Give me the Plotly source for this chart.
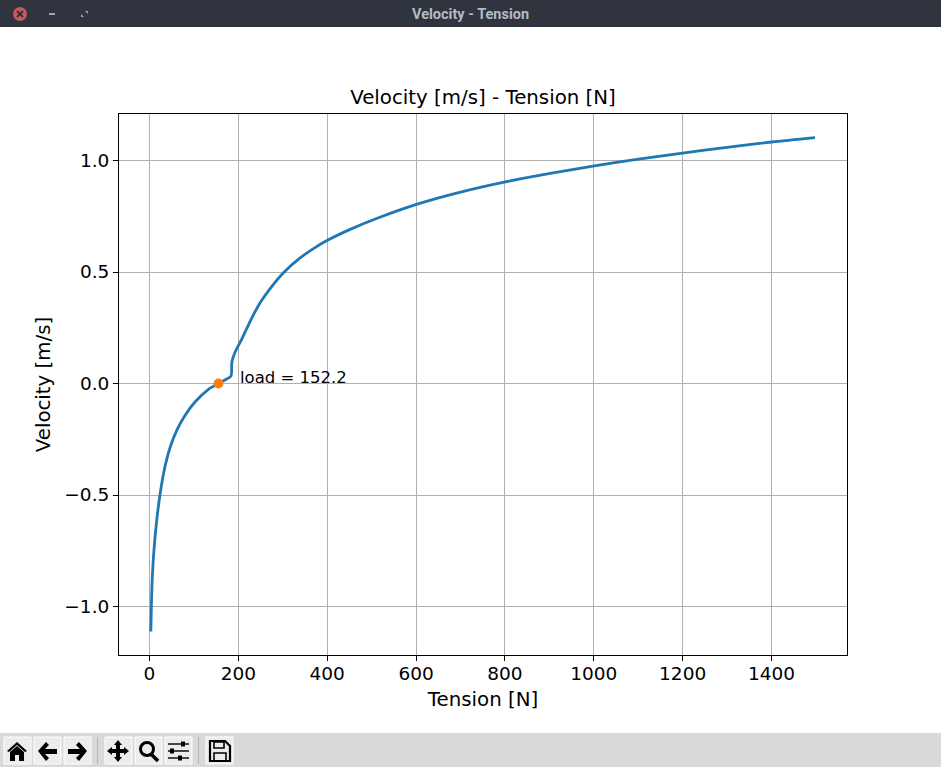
import plotly.graph_objects as go

tension = [3.1, 4.2, 6.8, 11.3, 16.6, 23.4, 33, 46.6, 61.6, 80.3, 102.9, 132.8, 155.3, 170, 183.2, 185.5, 193, 208,
           226.6, 249, 275.5, 301.6, 339, 369, 400.6, 451.7, 515.5, 600.9, 700, 801, 902, 1001.6, 1100.6, 1199.6, 1299.6, 1400, 1498]
velocity = [-1.112, -1.0, -0.851, -0.717, -0.608, -0.502, -0.39, -0.286, -0.209, -0.142, -0.082, -0.026, 0.0, 0.016, 0.033, 0.097, 0.142, 0.2,
            0.279, 0.362, 0.436, 0.497, 0.563, 0.605, 0.642, 0.691, 0.743, 0.803, 0.858, 0.904, 0.942, 0.976, 1.006, 1.033, 1.059, 1.083, 1.103]
load_x = [155.3]
load_y = [0.0]
load_text = "load = 152.2"
x_ticks = [0, 200, 400, 600, 800, 1000, 1200, 1400]
y_ticks = [-1.0, -0.5, 0.0, 0.5, 1.0]

W, H = 941, 767
L, R, T, B = 119, 847, 114, 655
FONT = "DejaVu Sans"

def px(x):
    return (x - L) / (R - L)

def py(y):
    return (B - y) / (B - T)

def rect(x0, y0, x1, y1, fill, line=None, lw=1):
    return dict(type="rect", xref="paper", yref="paper", x0=px(x0), x1=px(x1), y0=py(y0), y1=py(y1),
                fillcolor=fill, line=dict(color=line or fill, width=lw if line else 0), layer="above")

def poly(points, fill="#000000", line=None, lw=0, close=True):
    d = "M" + " L".join(f"{px(a):.5f},{py(b):.5f}" for a, b in points) + (" Z" if close else "")
    return dict(type="path", xref="paper", yref="paper", path=d,
                fillcolor=fill, line=dict(color=line or fill, width=lw), layer="above")

def circle(cx, cy, r, fill, line=None, lw=0):
    return dict(type="circle", xref="paper", yref="paper", x0=px(cx - r), x1=px(cx + r), y0=py(cy + r), y1=py(cy - r),
                fillcolor=fill, line=dict(color=line or fill, width=lw), layer="above")

shapes = [
    rect(0, 0, W, 27, "#2f343f"),
    circle(20, 14, 7, "#cc575d"),
    poly([(17, 11), (23, 17)], "#2f343f", "#2f343f", 2, False),
    poly([(23, 11), (17, 17)], "#2f343f", "#2f343f", 2, False),
    rect(49, 13, 55, 15, "#9ea3ad"),
    poly([(85, 11), (88, 11), (88, 14)], "#9ea3ad"),
    poly([(81, 14), (84, 17), (81, 17)], "#9ea3ad"),
    rect(0, 733, W, H, "#d9d9d9"),
]
for a, b in [(4, 31), (34, 61), (64, 91), (105, 132), (135, 162), (165, 192), (206, 233)]:
    shapes.append(rect(a, 737, b, 764, "#ececec", "#ffffff", 1))
shapes += [rect(97, 737, 98, 764, "#b4b4b4"), rect(198, 737, 199, 764, "#b4b4b4")]

# home
shapes += [poly([(7, 751), (17, 742), (27, 751), (25, 752), (17, 745), (9, 752)]),
           poly([(10, 752), (17, 746), (24, 752), (24, 761), (19, 761), (19, 755), (15, 755), (15, 761), (10, 761)])]
# back / forward
shapes += [poly([(38, 751), (46, 742), (49, 745), (45, 749), (57, 749), (57, 754), (45, 754), (49, 758), (46, 761)])]
shapes += [poly([(87, 751), (79, 742), (76, 745), (80, 749), (68, 749), (68, 754), (80, 754), (76, 758), (79, 761)])]
# move
shapes += [poly([(118, 740), (122, 745), (120, 745), (120, 749), (124, 749), (124, 747), (129, 751), (124, 755), (124, 753),
                 (120, 753), (120, 757), (122, 757), (118, 762), (114, 757), (116, 757), (116, 753), (112, 753), (112, 755),
                 (107, 751), (112, 747), (112, 749), (116, 749), (116, 745), (114, 745)])]
# zoom
shapes += [circle(147, 749, 6.5, "rgba(0,0,0,0)", "#000000", 3),
           poly([(151, 754), (158, 761)], "#000000", "#000000", 3.5, False)]
# subplots
for yy, kx in [(744, 183), (751, 172), (758, 180)]:
    shapes += [rect(168, yy - 0.7, 189, yy + 0.7, "#000000"), rect(kx - 2, yy - 2.5, kx + 2, yy + 2.5, "#000000")]
# save
shapes += [poly([(210, 741), (225, 741), (230, 746), (230, 761), (210, 761)], "rgba(0,0,0,0)", "#000000", 2.2),
           rect(214, 742, 224, 748, "rgba(0,0,0,0)", "#000000", 1.6),
           rect(214, 753, 226, 761, "rgba(0,0,0,0)", "#000000", 1.6)]

fig = go.Figure()
fig.add_trace(go.Scatter(x=tension, y=velocity, mode="lines",
                         line=dict(color="#1f77b4", width=2.8, shape="spline", smoothing=0.8),
                         hoverinfo="skip", showlegend=False))
fig.add_trace(go.Scatter(x=load_x, y=load_y, mode="markers",
                         marker=dict(color="#ff7f0e", size=10), hoverinfo="skip", showlegend=False))

axis_common = dict(showgrid=True, gridcolor="#b0b0b0", gridwidth=1, zeroline=False,
                   showline=True, linecolor="#000000", linewidth=1, mirror=True,
                   ticks="outside", ticklen=5, tickwidth=1, tickcolor="#000000",
                   tickfont=dict(family=FONT, size=18.5, color="#000000"))

fig.update_layout(
    width=W, height=H, autosize=False,
    margin=dict(l=L, r=W - R, t=T, b=H - B, pad=0),
    paper_bgcolor="#ffffff", plot_bgcolor="#ffffff",
    showlegend=False,
    font=dict(family=FONT, color="#000000"),
    title=dict(text="Velocity [m/s] - Tension [N]", x=0.5, xref="paper", xanchor="center",
               y=1, yref="paper", yanchor="bottom", pad=dict(b=10),
               font=dict(family=FONT, size=19.8, color="#000000")),
    xaxis=dict(range=[-68.6, 1569.9], tickvals=x_ticks, ticktext=[str(v) for v in x_ticks], ticklabelstandoff=-3,
               title=dict(text="Tension [N]", standoff=8, font=dict(family=FONT, size=19.8, color="#000000")),
               **axis_common),
    yaxis=dict(range=[-1.2175, 1.2085], tickvals=y_ticks, tickformat=".1f",
               title=dict(text="Velocity [m/s]", standoff=8, font=dict(family=FONT, size=19.8, color="#000000")),
               **axis_common),
    shapes=shapes,
    annotations=[
        dict(text=load_text, x=201, y=0, xref="x", yref="y", xanchor="left", yanchor="bottom", showarrow=False,
             borderpad=0, yshift=-4, font=dict(family=FONT, size=16.5, color="#000000")),
        dict(text="<b>Velocity - Tension</b>", xref="paper", yref="paper", x=px(470), y=py(14), xanchor="center", yanchor="middle",
             showarrow=False, font=dict(family="Roboto", size=14.5, color="#b5bac4")),
    ],
)

fig.write_html("out.html", config=dict(displayModeBar=False),
               post_script="document.body.style.margin='0';document.body.style.overflow='hidden';")
